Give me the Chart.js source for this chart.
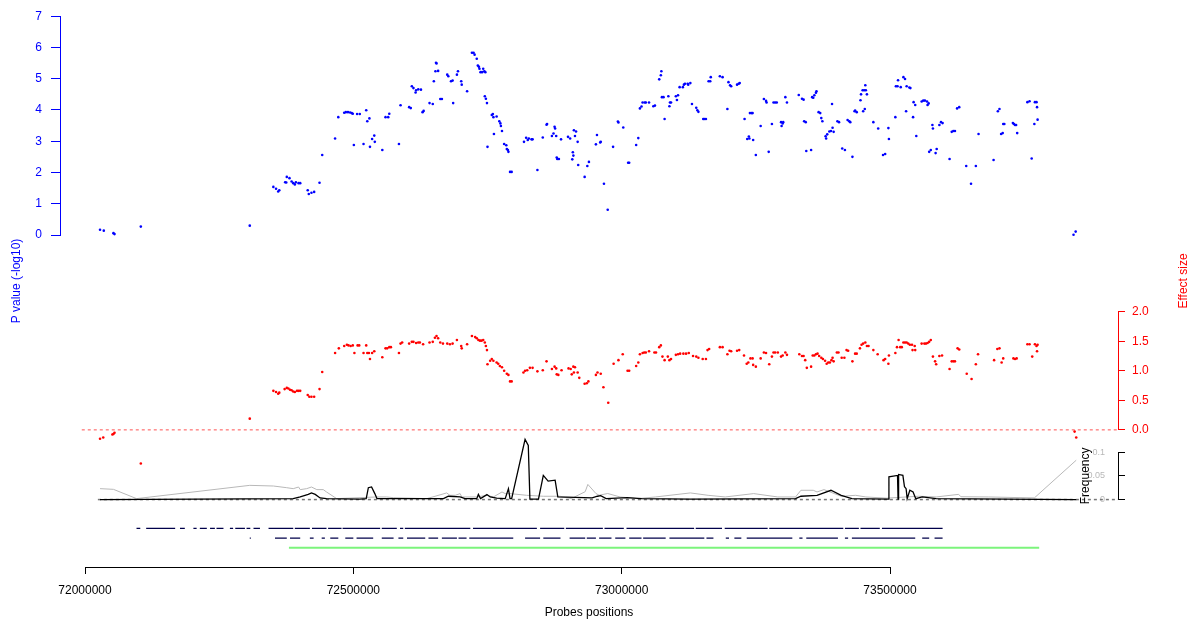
<!DOCTYPE html>
<html>
<head>
<meta charset="utf-8">
<script src="https://cdn.jsdelivr.net/npm/chart.js@4.4.0/dist/chart.umd.min.js"></script>
<style>
  html, body { margin: 0; padding: 0; background: #fff; }
  canvas { display: block; }
</style>
</head>
<body>
<canvas id="chart" width="1196" height="623"></canvas>
<script>
// probe positions (bp) and -log10 p values
const pvPos = [
  72028000,72035000,72053000,72055000,72104000,72307000,
  72351000,72356000,72360000,72362000,72373000,72376000,72381000,72375000,72385000,72388000,72391000,72393000,72398000,72401000,
  72415000,72417000,72422000,72427000,72437000,72442000,72466000,72472000,
  72483000,72486000,72490000,72494000,72497000,72499000,72501000,72507000,72512000,72519000,
  72524000,72526000,72530000,72531000,72535000,72539000,72540000,72554000,72560000,72565000,72567000,
  72585000,72588000,72604000,72607000,72609000,72612000,72616000,72617000,72621000,72626000,
  72629000,72631000,72642000,72648000,72650000,72654000,72655000,72653000,72658000,72662000,72665000,
  72675000,72677000,72682000,72685000,72686000,72693000,72695000,72701000,72702000,72712000,
  72721000,72724000,72726000,72730000,72732000,72734000,72735000,72737000,72740000,72744000,72746000,72742000,
  72745000,72747000,72749000,72750000,72758000,72760000,72761000,72762000,72767000,72772000,72774000,72775000,72777000,
  72781000,72785000,72786000,72788000,72789000,72792000,72795000,
  72818000,72822000,72825000,72827000,72832000,72834000,72843000,72853000,72860000,72861000,
  72870000,72873000,72875000,72876000,72878000,72879000,72880000,72883000,72887000,
  72900000,72904000,72908000,72909000,72910000,72911000,72913000,72915000,72918000,72919000,
  72931000,72936000,72939000,72952000,72954000,72960000,72961000,72967000,72974000,72984000,72993000,72994000,
  73003000,73012000,73014000,73027000,73031000,73034000,73037000,73039000,73043000,73045000,73051000,73059000,73062000,
  73070000,73073000,73074000,73075000,73078000,73080000,73087000,73089000,73090000,73092000,
  73101000,73103000,73105000,73108000,73114000,73116000,73118000,73123000,73124000,73128000,73131000,73139000,73141000,73143000,
  73152000,73154000,73157000,73162000,73165000,73166000,73183000,73188000,73197000,73199000,73202000,73204000,
  73215000,73218000,73220000,73229000,73234000,73237000,73238000,73239000,73242000,73244000,73245000,73250000,73259000,
  73265000,73269000,73270000,73274000,73280000,73283000,73286000,73289000,73297000,73298000,73300000,73301000,73305000,73308000,
  73330000,73336000,73339000,73340000,73343000,73344000,73353000,73355000,73357000,73359000,73362000,73363000,
  73367000,73370000,73372000,73374000,73380000,73381000,73383000,73387000,73390000,73392000,73393000,73395000,
  73402000,73405000,73411000,73416000,73421000,73424000,73426000,73430000,73434000,73435000,73438000,
  73445000,73446000,73449000,73450000,73452000,73453000,73454000,73455000,73457000,73469000,73478000,73487000,73491000,73497000,73498000,
  73510000,73511000,73514000,73515000,73520000,73525000,73528000,73530000,73531000,73536000,73538000,
  73543000,73544000,73547000,73549000,73559000,73562000,73565000,73569000,73570000,73572000,73573000,73576000,73579000,73580000,
  73585000,73587000,73592000,73595000,73598000,73611000,73615000,73618000,73621000,73625000,73629000,
  73642000,73651000,73660000,73665000,73693000,73701000,73704000,73707000,73710000,73711000,73713000,
  73729000,73731000,73733000,73735000,73737000,73756000,73760000,73764000,73769000,73770000,73773000,73774000,73775000,
  73842000,73846000
];
const pvVal = [
  0.17,0.14,0.06,0.03,0.27,0.30,
  1.54,1.48,1.39,1.43,1.69,1.86,1.82,1.68,1.71,1.66,1.62,1.69,1.66,1.66,
  1.43,1.31,1.35,1.38,1.67,2.56,3.09,3.77,
  3.91,3.93,3.93,3.92,3.90,3.88,2.88,3.87,3.87,2.91,
  3.99,3.64,3.73,2.82,3.07,3.18,2.98,2.72,3.77,3.77,3.88,
  2.91,4.15,4.09,4.06,4.76,4.70,4.56,4.63,4.66,4.65,
  3.93,3.97,4.22,4.19,4.92,5.51,5.49,5.24,5.25,4.35,4.35,
  5.13,5.08,4.92,4.94,4.22,5.13,5.24,4.92,4.81,4.60,
  5.83,5.83,5.77,5.64,5.42,5.38,5.32,5.21,5.21,5.24,5.21,5.32,
  4.44,4.36,4.22,2.82,3.84,3.87,3.77,3.23,3.79,3.64,3.57,3.49,3.33,
  2.91,2.87,2.75,2.72,2.66,2.02,2.02,
  2.98,3.11,3.04,3.09,3.06,3.06,2.08,3.12,3.53,3.55,
  3.17,3.25,3.46,3.41,3.17,2.48,2.43,2.43,3.06,
  3.14,3.09,2.42,2.65,2.54,3.35,3.17,3.31,2.98,2.24,
  1.86,2.21,2.34,2.90,3.20,2.96,2.98,1.64,0.81,2.82,3.63,3.60,
  3.44,2.31,2.31,2.88,3.10,4.05,4.11,4.24,4.24,4.24,4.24,4.12,4.14,
  4.98,5.11,5.24,4.41,4.41,3.71,4.44,4.12,4.24,4.24,
  4.44,4.32,4.47,4.73,4.73,4.81,4.84,4.84,4.81,4.86,4.19,4.07,3.99,3.94,
  3.71,3.71,3.71,4.92,4.92,5.05,5.08,5.05,4.03,4.89,4.79,4.76,
  4.81,4.84,4.86,3.71,3.07,3.15,3.09,3.90,3.90,3.90,3.04,2.56,3.49,
  4.35,4.29,4.24,2.66,3.55,4.24,4.24,4.24,3.61,3.49,3.57,3.61,4.41,4.24,
  4.48,4.36,4.33,3.64,3.61,2.69,2.72,4.41,4.39,4.47,4.55,4.60,
  3.93,3.90,3.74,3.64,3.16,3.09,3.22,3.31,3.33,4.19,3.43,3.30,
  3.64,3.61,2.77,2.72,3.68,3.64,3.61,2.50,3.96,3.98,3.93,
  4.31,4.50,4.63,3.96,4.63,4.03,4.79,4.63,4.50,3.61,3.41,2.56,2.59,3.42,3.07,
  3.77,4.76,4.76,4.95,4.73,5.05,4.99,3.96,4.76,4.72,4.70,
  3.77,4.25,4.16,3.17,4.27,4.30,4.30,4.27,4.16,4.21,2.66,2.72,3.52,3.41,
  2.62,2.75,3.52,3.61,3.58,2.43,3.30,3.33,3.33,4.05,4.09,
  2.21,1.64,2.21,3.23,2.40,3.96,4.03,3.23,3.26,3.55,3.55,
  3.58,3.55,3.52,3.52,3.26,4.25,4.28,2.45,3.55,4.25,4.25,4.09,3.69,
  0.01,0.11
];

// effect sizes
const efPos = [
  72028000,72034000,72051000,72053000,72055000,72104000,72307000,
  72351000,72356000,72360000,72362000,72372000,72376000,72379000,72382000,72385000,72388000,72391000,72395000,72398000,72401000,
  72415000,72418000,72422000,72427000,72437000,72442000,72466000,72473000,
  72483000,72488000,72491000,72495000,72499000,72502000,72508000,72511000,72519000,72524000,72526000,72529000,72531000,72535000,72539000,
  72554000,72560000,72563000,72567000,72570000,72585000,72588000,72591000,
  72604000,72609000,72612000,72617000,72621000,72624000,72630000,72642000,72648000,72652000,72655000,72658000,72662000,72667000,
  72675000,72680000,72685000,72693000,72701000,72702000,72712000,
  72721000,72727000,72730000,72733000,72736000,72739000,72742000,72745000,72747000,72749000,72750000,72755000,72758000,72761000,
  72767000,72770000,72773000,72777000,72781000,72786000,72789000,72792000,72795000,
  72817000,72820000,72824000,72829000,72834000,72843000,72853000,72860000,72870000,72875000,72878000,72879000,72882000,72888000,
  72901000,72905000,72907000,72910000,72911000,72913000,72918000,72921000,72931000,72935000,72938000,
  72952000,72955000,72961000,72966000,72975000,72985000,72994000,73002000,73011000,73014000,
  73027000,73031000,73034000,73039000,73042000,73045000,73051000,73061000,73064000,73070000,73073000,73076000,73080000,73086000,73089000,73092000,
  73101000,73105000,73109000,73115000,73120000,73125000,73133000,73139000,73143000,73151000,73157000,73160000,73163000,
  73183000,73188000,73197000,73201000,73204000,73215000,73219000,73228000,73233000,73236000,73240000,73244000,73245000,73250000,
  73259000,73265000,73269000,73275000,73280000,73283000,73286000,73291000,73297000,73300000,73305000,73308000,
  73331000,73336000,73339000,73342000,73345000,73353000,73356000,73359000,73362000,73365000,73368000,73372000,73375000,
  73379000,73382000,73385000,73388000,73391000,73393000,73395000,73401000,73404000,73410000,73415000,73419000,73422000,
  73430000,73435000,73438000,73444000,73447000,73450000,73454000,73457000,73460000,73469000,73477000,73488000,73491000,73497000,73498000,
  73510000,73513000,73516000,73519000,73522000,73525000,73528000,73531000,73534000,73537000,73541000,73542000,73547000,73546000,
  73559000,73564000,73567000,73570000,73573000,73576000,73580000,73584000,73586000,73592000,73597000,
  73611000,73615000,73618000,73621000,73626000,73629000,73643000,73652000,73660000,73664000,
  73694000,73700000,73704000,73708000,73711000,73730000,73733000,73736000,
  73756000,73760000,73765000,73770000,73773000,73775000,73774000,
  73844000,73847000
];
const efVal = [
  -0.15,-0.13,-0.08,-0.07,-0.05,-0.57,0.19,
  0.66,0.64,0.61,0.63,0.69,0.71,0.70,0.68,0.67,0.65,0.64,0.66,0.66,0.66,
  0.59,0.56,0.56,0.56,0.69,0.98,1.30,1.38,
  1.42,1.44,1.43,1.42,1.43,1.30,1.43,1.43,1.30,1.43,1.30,1.30,1.20,1.30,1.33,
  1.23,1.38,1.38,1.40,1.40,1.30,1.46,1.48,
  1.46,1.49,1.49,1.47,1.48,1.48,1.45,1.48,1.49,1.56,1.59,1.55,1.48,1.46,
  1.46,1.45,1.46,1.52,1.42,1.38,1.45,
  1.59,1.57,1.55,1.52,1.51,1.51,1.52,1.48,1.42,1.35,1.11,1.17,1.20,1.17,
  1.14,1.12,1.08,1.06,1.00,0.95,0.93,0.82,0.82,
  0.97,1.00,1.01,1.05,1.05,0.99,1.01,1.16,1.03,1.07,1.04,0.94,0.93,1.01,
  1.04,1.03,0.94,1.07,0.97,1.06,0.97,0.88,0.78,0.79,0.82,
  0.93,0.97,0.95,0.72,0.46,1.12,1.18,1.28,1.00,1.00,
  1.08,1.14,1.28,1.30,1.31,1.31,1.33,1.31,1.31,1.40,1.43,1.24,1.18,1.24,1.18,1.20,
  1.27,1.28,1.29,1.29,1.29,1.30,1.25,1.24,1.22,1.20,1.20,1.35,1.37,
  1.40,1.40,1.28,1.34,1.33,1.34,1.35,1.26,1.12,1.14,1.21,1.21,1.10,1.07,
  1.21,1.31,1.30,1.11,1.24,1.31,1.31,1.31,1.24,1.26,1.31,1.27,
  1.28,1.25,1.25,1.18,1.05,1.07,1.26,1.26,1.28,1.29,1.25,1.22,1.20,
  1.17,1.12,1.14,1.14,1.18,1.22,1.16,1.31,1.31,1.22,1.22,1.35,1.34,
  1.16,1.29,1.29,1.38,1.44,1.46,1.48,1.42,1.42,1.35,1.28,1.18,1.20,1.12,1.26,
  1.30,1.40,1.52,1.40,1.40,1.48,1.48,1.48,1.46,1.44,1.44,1.35,1.35,1.42,
  1.46,1.46,1.46,1.47,1.49,1.52,1.24,1.16,1.11,1.25,1.26,
  1.03,1.16,1.16,1.16,1.38,1.36,0.95,0.86,1.11,1.28,
  1.18,1.37,1.38,1.14,1.21,1.21,1.20,1.21,
  1.45,1.45,1.24,1.45,1.42,1.44,1.33,
  -0.03,-0.13
];

// frequency curves
const fqPos = [72028000,72388000,72401000,72416000,72422000,72429000,72438000,72450000,72512000,72524000,72528000,72534000,72540000,72544000,
  72668000,72677000,72699000,72708000,72730000,72733000,72737000,72749000,72755000,72767000,72783000,72789000,72792000,72795000,
  72820000,72826000,72829000,72845000,72854000,72863000,72876000,72881000,72945000,72955000,72961000,72971000,
  73010000,73037000,73128000,73324000,73334000,73364000,73390000,73409000,73429000,
  73497000,73498000,73514000,73515000,73516000,73524000,73527000,73530000,73532000,73537000,73543000,73548000,73560000,73586000,73847000];
const fqVal = [0,0.002,0.0056,0.011,0.014,0.011,0.0035,0.002,0.001,0.002,0.025,0.0266,0.0126,0.002,
  0.002,0.007,0.0056,0.002,0.002,0.011,0.002,0.0105,0.0056,0.003,0.002,0.023,0.002,0.002,
  0.127,0.114,0.001,0.001,0.051,0.039,0.041,0.0056,0.0035,0.007,0.0084,0.002,
  0.004,0.002,0.001,0.002,0.007,0.009,0.0196,0.009,0.002,
  0.001,0.048,0.051,0.001,0.053,0.051,0.027,0.023,0.002,0.0196,0.016,0.002,0.0056,0.002,0];
const bgPos = [72028000,72053000,72096000,72307000,72351000,72376000,72388000,72398000,72401000,72413000,
  72422000,72432000,72444000,72450000,72469000,72544000,72562000,72575000,72637000,72674000,
  72680000,72690000,72699000,72702000,72730000,72749000,72761000,72777000,72783000,72792000,
  72823000,72854000,72885000,72906000,72932000,72937000,72952000,72958000,72974000,72997000,
  73030000,73063000,73128000,73161000,73193000,73246000,73291000,73324000,73334000,73357000,
  73364000,73377000,73409000,73436000,73455000,73494000,73553000,73586000,73628000,73632000,
  73684000,73769000,73847000];
const bgVal = [0.023,0.0216,0.002,0.030,0.0286,0.025,0.023,0.0265,0.021,0.023,
  0.0265,0.021,0.021,0.016,0.002,0.0055,0.0055,0.004,0.002,0.014,
  0.009,0.009,0.0126,0.0055,0.0055,0.009,0.0055,0.016,0.0126,0.0126,
  0.009,0.007,0.007,0.002,0.0166,0.032,0.0128,0.0092,0.0128,0.0055,
  0.002,0.0055,0.014,0.009,0.0055,0.0126,0.0055,0.0055,0.0196,0.0196,
  0.016,0.021,0.007,0.009,0.0055,0.003,0.007,0.0055,0.011,0.006,
  0.0055,0.0035,0.083];

// probe tracks (start, end)
const track1 = [[72096000,72103000],[72114000,72168000],[72177000,72186000],[72202000,72208000],[72214000,72227000],
  [72233000,72242000],[72245000,72258000],[72270000,72276000],[72280000,72298000],[72301000,72308000],[72314000,72326000],
  [72342000,72388000],[72391000,72419000],[72423000,72450000],[72453000,72478000],[72480000,72550000],[72553000,72581000],
  [72587000,72593000],[72596000,72718000],[72723000,72842000],[72848000,72893000],[72896000,72965000],[72968000,73004000],
  [73009000,73135000],[73138000,73187000],[73192000,73272000],[73275000,73413000],[73416000,73442000],[73445000,73481000],
  [73485000,73598000]];
const track2 = [[72307000,72309000],[72354000,72376000],[72382000,72401000],[72419000,72426000],[72441000,72447000],
  [72457000,72472000],[72485000,72500000],[72506000,72537000],[72553000,72575000],[72584000,72593000],[72600000,72634000],
  [72640000,72658000],[72665000,72693000],[72696000,72711000],[72716000,72798000],[72820000,72848000],[72854000,72886000],
  [72903000,72932000],[72935000,72952000],[72958000,72981000],[72988000,73007000],[73014000,73037000],[73040000,73082000],
  [73089000,73154000],[73158000,73171000],[73194000,73200000],[73210000,73223000],[73233000,73318000],[73331000,73337000],
  [73344000,73403000],[73416000,73422000],[73429000,73547000],[73560000,73573000],[73583000,73598000]];
const regionSpan = [72380000, 73778000];
const zeroSpan = [71994000, 73925000];
const freqZeroSpan = [72024000, 73925000];

const xTicks = [72000000, 72500000, 73000000, 73500000];
const pTicks = [0, 1, 2, 3, 4, 5, 6, 7];
const effTicks = [0, 0.5, 1, 1.5, 2];
const freqTicks = [0, 0.05, 0.1];

const FONT = '"Liberation Sans", Arial, Helvetica, sans-serif';
Chart.defaults.font.family = FONT;
Chart.defaults.font.size = 12;

const pts = (xs, ys) => xs.map((x, i) => ({ x: x, y: ys[i] }));
const segs = (list, level) => list.flatMap(([a, b]) => [{ x: a, y: level }, { x: b, y: level }, { x: b, y: null }]);
const fixTicks = vals => s => { s.ticks = vals.map(v => ({ value: v })); };

// stacked boxes all get the same thickness, otherwise chart.js sums the stack wrongly
const LEFT_W = 60, RIGHT_W = 78, BOTTOM_H = 56;

function spacer(axis, position, stack, stackWeight, weight, min, max) {
  const horiz = axis === 'x';
  return {
    type: 'linear', axis: axis, position: position, stack: stack, stackWeight: stackWeight,
    weight: weight, display: false, min: min === undefined ? 0 : min, max: max === undefined ? 1 : max,
    afterFit: s => {
      if (horiz) s.height = BOTTOM_H;
      else s.width = position === 'left' ? LEFT_W : RIGHT_W;
    }
  };
}

function lineSet(data, yAxisID, color, width, dash) {
  return { data: data, xAxisID: 'x', yAxisID: yAxisID, showLine: true, borderColor: color, clip: false,
           borderWidth: width, borderDash: dash || [], pointRadius: 0, fill: false, spanGaps: false };
}

const titles = {
  id: 'titles',
  afterDraw(chart) {
    const ctx = chart.ctx;
    const area = chart.chartArea;
    ctx.save();
    ctx.font = '12px ' + FONT;
    ctx.textAlign = 'center';
    ctx.textBaseline = 'middle';
    ctx.fillStyle = '#000';
    ctx.fillText('Probes positions', (area.left + area.right) / 2, 613);
    const rot = (text, x, y, color) => {
      ctx.save();
      ctx.translate(x, y);
      ctx.rotate(-Math.PI / 2);
      ctx.fillStyle = color;
      ctx.fillText(text, 0, 0);
      ctx.restore();
    };
    rot('P value (-log10)', 17, 281, '#0000ff');
    rot('Effect size', 1184, 281, '#ff0000');
    const f = chart.scales.yF;
    rot('Frequency', 1086, (f.top + f.bottom) / 2, '#000');
    ctx.restore();
  }
};

new Chart(document.getElementById('chart'), {
  type: 'scatter',
  data: {
    datasets: [
      { data: pts(pvPos, pvVal), xAxisID: 'x', yAxisID: 'yP', pointRadius: 1.3, pointBorderWidth: 0, clip: false,
        pointBackgroundColor: '#0000ff', pointBorderColor: '#0000ff' },
      { data: pts(efPos, efVal), xAxisID: 'x', yAxisID: 'yE', pointRadius: 1.3, pointBorderWidth: 0, clip: false,
        pointBackgroundColor: '#ff0000', pointBorderColor: '#ff0000' },
      lineSet(pts(fqPos, fqVal), 'yF', '#000000', 1.3),
      lineSet(pts(bgPos, bgVal), 'yF', '#b8b8b8', 1),
      lineSet(pts(zeroSpan, [0, 0]), 'yE', '#ff7070', 1.2, [3, 3]),
      lineSet(pts(freqZeroSpan, [0, 0]), 'yF', '#777777', 1.5, [3, 3]),
      lineSet(segs(track1, 3), 'yTrack', '#00004a', 1.2),
      lineSet(segs(track2, 2), 'yTrack', '#00004a', 1.2),
      lineSet(pts(regionSpan, [1, 1]), 'yTrack', '#7cf47c', 2)
    ]
  },
  options: {
    responsive: false,
    animation: false,
    events: [],
    layout: { padding: { top: 14, left: 0, right: 0, bottom: 0 } },
    plugins: { legend: { display: false }, tooltip: { enabled: false } },
    scales: {
      xL: spacer('x', 'bottom', 'xs', 25, 0),
      x: {
        type: 'linear', axis: 'x', position: 'bottom', stack: 'xs', stackWeight: 805, weight: 1,
        bounds: 'data',
        // limits set after the data pass so lines past 73500000 are not cut off
        afterDataLimits: s => { s.min = xTicks[0]; s.max = xTicks[xTicks.length - 1]; },
        afterBuildTicks: fixTicks(xTicks),
        afterFit: s => { s.height = BOTTOM_H; },
        ticks: { callback: v => String(v), color: '#000', padding: 9, maxRotation: 0, autoSkip: false },
        grid: { drawOnChartArea: false, tickLength: 7, color: '#000' },
        border: { color: '#000' }
      },
      xR: spacer('x', 'bottom', 'xs', 228, 2),
      yP: {
        type: 'linear', axis: 'y', position: 'left', stack: 'L', stackWeight: 219.7, weight: 2,
        min: 0, max: 7,
        afterBuildTicks: fixTicks(pTicks),
        afterFit: s => { s.width = LEFT_W; },
        ticks: { color: '#0000ff', padding: 9, autoSkip: false, callback: v => String(v) },
        grid: { drawOnChartArea: false, tickLength: 9, color: '#0000ff' },
        border: { color: '#0000ff' }
      },
      yL: spacer('y', 'left', 'L', 333.3, 1),
      yRtop: spacer('y', 'right', 'R', 296.7, 0),
      yE: {
        type: 'linear', axis: 'y', position: 'right', stack: 'R', stackWeight: 118.6, weight: 1,
        min: 0, max: 2,
        afterBuildTicks: fixTicks(effTicks),
        afterFit: s => { s.width = RIGHT_W; },
        ticks: { color: '#ff0000', padding: 7, autoSkip: false, callback: v => v.toFixed(1) },
        grid: { drawOnChartArea: false, tickLength: 7, color: '#ff0000' },
        border: { color: '#ff0000' }
      },
      yRgap: spacer('y', 'right', 'R', 22.4, 2),
      yF: {
        type: 'linear', axis: 'y', position: 'right', stack: 'R', stackWeight: 47.6, weight: 3,
        min: 0, max: 0.1,
        afterBuildTicks: fixTicks(freqTicks),
        afterFit: s => { s.width = RIGHT_W; },
        ticks: { color: '#b8b8b8', mirror: true, padding: -13, autoSkip: false, font: { size: 9 }, callback: v => String(v) },
        grid: { drawOnChartArea: false, tickLength: 7, color: '#000' },
        border: { color: '#000' }
      },
      yTrack: spacer('y', 'right', 'R', 67.7, 4, -1, 6)
    }
  },
  plugins: [titles]
});
</script>
</body>
</html>
